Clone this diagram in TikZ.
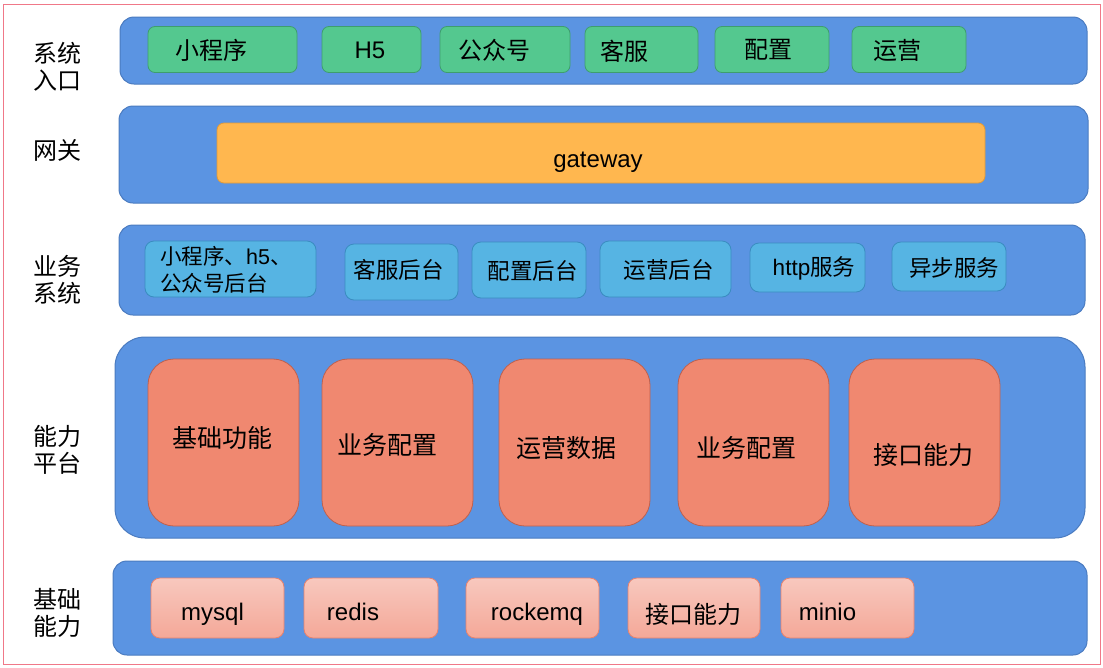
\documentclass[tikz,border=0pt]{standalone}
\usepackage{fontspec}
\setmainfont{Liberation Sans}
\newfontfamily\cjk{Noto Sans CJK SC}
\definecolor{layerblue}{HTML}{5B94E2}
\definecolor{layerline}{HTML}{4A7BC0}
\definecolor{greenf}{HTML}{54C88F}
\definecolor{greenl}{HTML}{3E9E6E}
\definecolor{orangef}{HTML}{FFB74F}
\definecolor{orangel}{HTML}{E09A3A}
\definecolor{skyf}{HTML}{56B4E3}
\definecolor{skyl}{HTML}{3A8CC0}
\definecolor{salmonf}{HTML}{F08870}
\definecolor{salmonl}{HTML}{C0604C}
\definecolor{pinktop}{HTML}{F8C8BE}
\definecolor{pinkbot}{HTML}{F4A898}
\definecolor{pinkl}{HTML}{E8826C}
\definecolor{framel}{HTML}{F07888}
\tikzset{
  layer/.style={draw=layerline, fill=layerblue, line width=1pt, rounded corners=14pt},
  greenbox/.style={draw=greenl, fill=greenf, line width=0.8pt, rounded corners=7pt, minimum height=46pt, inner sep=0pt},
  orangebox/.style={draw=orangel, fill=orangef, line width=0.8pt, rounded corners=7pt, minimum height=60pt, inner sep=0pt},
  skybox/.style={draw=skyl, fill=skyf, line width=0.8pt, rounded corners=9pt, inner sep=0pt},
  salmonbox/.style={draw=salmonl, fill=salmonf, line width=0.8pt, rounded corners=26pt, minimum width=151pt, minimum height=167pt, inner sep=0pt},
  pinkbox/.style={draw=pinkl, top color=pinktop, bottom color=pinkbot, line width=0.8pt, rounded corners=9pt, minimum height=60pt, inner sep=0pt},
  ctxt/.style={inner sep=0pt, font=\cjk\fontsize{24}{28}\selectfont},
  ltxt/.style={inner sep=0pt, anchor=base, font=\fontsize{24}{28}\selectfont},
  stxt/.style={inner sep=0pt, font=\cjk\fontsize{22.5}{27}\selectfont},
  btxt/.style={inner sep=0pt, font=\cjk\fontsize{25}{28}\selectfont},
  sidelabel/.style={inner sep=0pt, align=left, font=\cjk\fontsize{24}{27}\selectfont},
}
\begin{document}
\begin{tikzpicture}[x=1pt,y=-1pt]
\useasboundingbox (0,0) rectangle (1103,667);
\fill[white] (0,0) rectangle (1103,667);
\draw[framel, line width=1pt] (3,4) rectangle (1100,664);

% layers
\draw[layer] (120,17) rectangle (1087,84);
\draw[layer] (119,106) rectangle (1088,203);
\draw[layer] (119,225) rectangle (1085,315);
\draw[layer, rounded corners=30pt] (115,337) rectangle (1085,538);
\draw[layer] (113,561) rectangle (1087,655);

% side labels
\node[sidelabel] (l1) at (57,67) {系统\\入口};
\node[sidelabel] (l2) at (57,150) {网关};
\node[sidelabel] (l3) at (57,280) {业务\\系统};
\node[sidelabel] (l4) at (57,450) {能力\\平台};
\node[sidelabel] (l5) at (57,613) {基础\\能力};

% row 1
\node[greenbox, minimum width=149pt] (g1) at (222.5,49.5) {};
\node[ctxt] (g1t) at (211,50) {小程序};
\node[greenbox, minimum width=99pt] (g2) at (371.5,49.5) {};
\node[ltxt] (g2t) at (370,58.5) {H5};
\node[greenbox, minimum width=130pt] (g3) at (505,49.5) {};
\node[ctxt] (g3t) at (494,50) {公众号};
\node[greenbox, minimum width=113pt] (g4) at (641.5,49.5) {};
\node[ctxt] (g4t) at (624,51) {客服};
\node[greenbox, minimum width=114pt] (g5) at (772,49.5) {};
\node[ctxt] (g5t) at (768,50) {配置};
\node[greenbox, minimum width=114pt] (g6) at (909,49.5) {};
\node[ctxt] (g6t) at (897,50) {运营};

% row 2
\node[orangebox, minimum width=768pt] (gw) at (601,153) {};
\node[ltxt] (gwt) at (598,167) {gateway};

% row 3
\node[skybox, minimum width=171pt, minimum height=56pt] (s1) at (230.5,269) {};
\node[inner sep=0pt, align=left, anchor=west, font=\cjk\fontsize{21.5}{27}\selectfont] (s1t) at (160,269.5) {小程序、{\rmfamily h5}、\\公众号后台};
\node[skybox, minimum width=113pt, minimum height=56pt] (s2) at (401.5,272) {};
\node[stxt] (s2t) at (398.5,270) {客服后台};
\node[skybox, minimum width=114pt, minimum height=56pt] (s3) at (529,270) {};
\node[stxt] (s3t) at (532.5,271) {配置后台};
\node[skybox, minimum width=131pt, minimum height=56pt] (s4) at (665.5,269) {};
\node[stxt] (s4t) at (668.5,270) {运营后台};
\node[skybox, minimum width=115pt, minimum height=49pt] (s5) at (807.5,267.5) {};
\node[stxt] (s5t) at (814,268) {{\rmfamily http}服务};
\node[skybox, minimum width=114pt, minimum height=49pt] (s6) at (949,266.5) {};
\node[stxt] (s6t) at (954,268) {异步服务};

% row 4
\node[salmonbox] (c1) at (223.5,442.5) {};
\node[btxt] (c1t) at (222.5,438) {基础功能};
\node[salmonbox] (c2) at (397.5,442.5) {};
\node[btxt] (c2t) at (387,445) {业务配置};
\node[salmonbox] (c3) at (574.5,442.5) {};
\node[btxt] (c3t) at (566.5,448) {运营数据};
\node[salmonbox] (c4) at (753.5,442.5) {};
\node[btxt] (c4t) at (746,448) {业务配置};
\node[salmonbox] (c5) at (924.5,442.5) {};
\node[btxt] (c5t) at (923,455) {接口能力};

% row 5
\node[pinkbox, minimum width=133pt] (p1) at (217.5,608) {};
\node[ltxt] (p1t) at (212.5,620) {mysql};
\node[pinkbox, minimum width=134pt] (p2) at (371,608) {};
\node[ltxt] (p2t) at (353,620) {redis};
\node[pinkbox, minimum width=133pt] (p3) at (532.5,608) {};
\node[ltxt] (p3t) at (537,620) {rockemq};
\node[pinkbox, minimum width=132pt] (p4) at (694,608) {};
\node[ctxt] (p4t) at (693.5,614) {接口能力};
\node[pinkbox, minimum width=133pt] (p5) at (847.5,608) {};
\node[ltxt] (p5t) at (827.5,620) {minio};
\end{tikzpicture}
\end{document}
